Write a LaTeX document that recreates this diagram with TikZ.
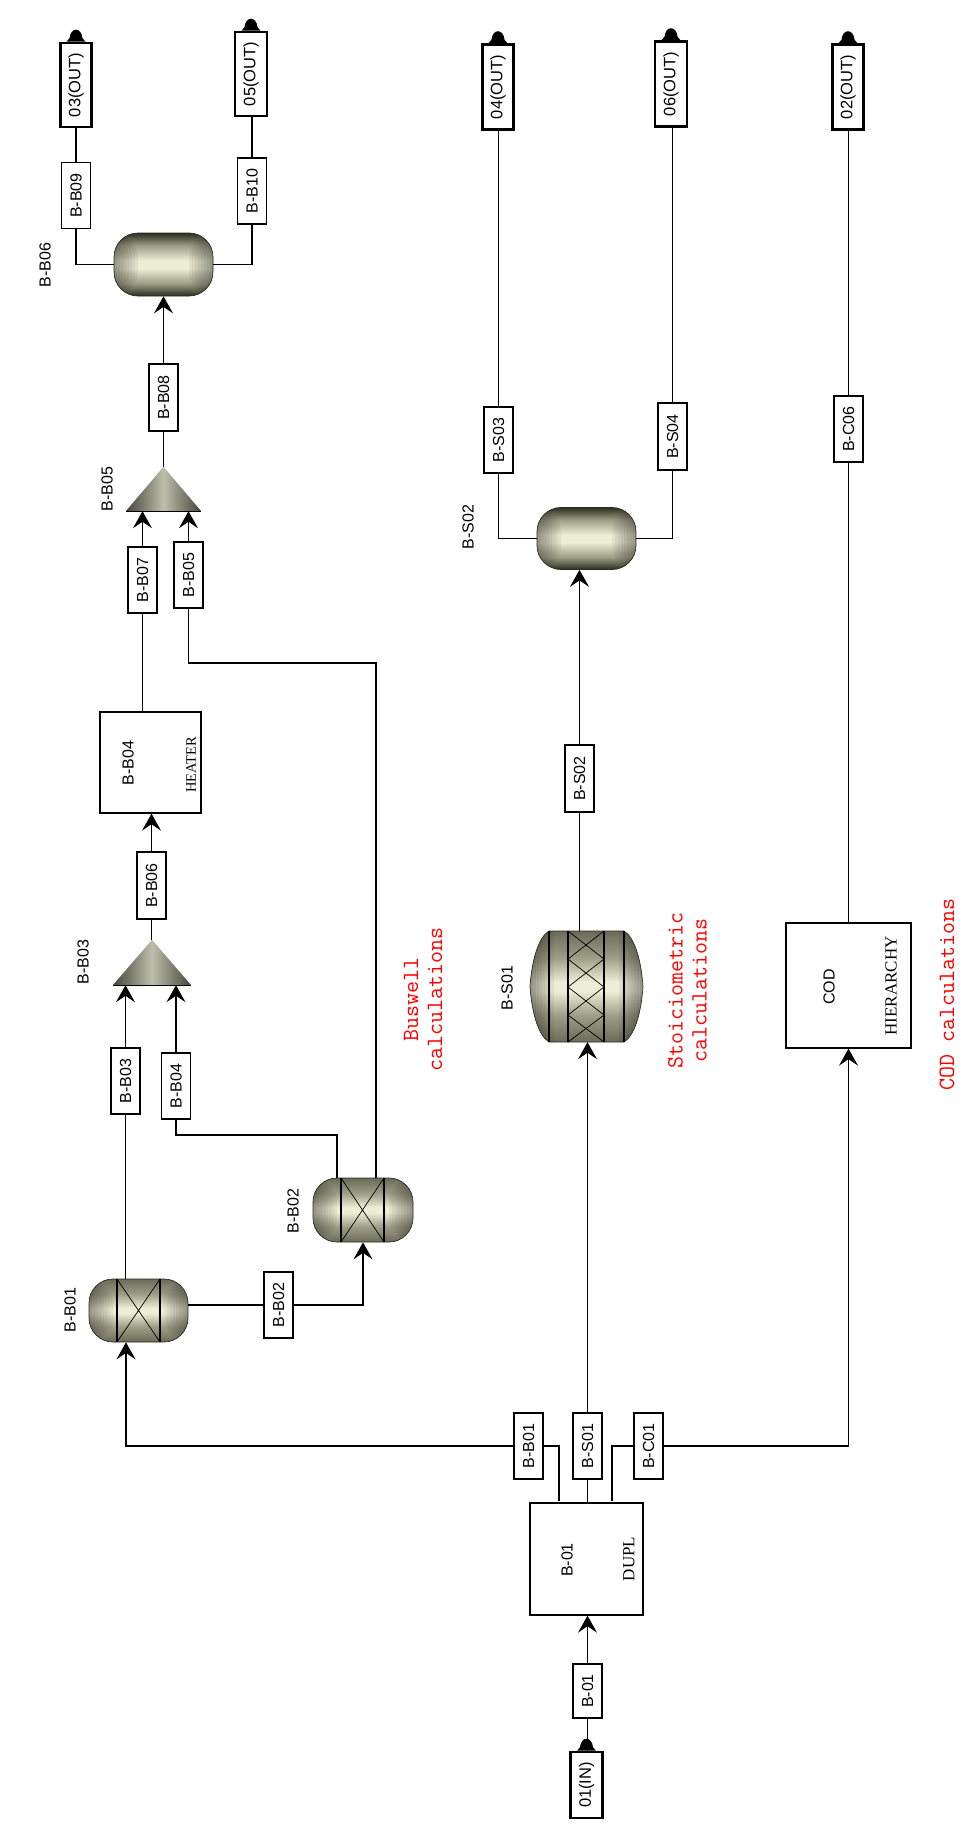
\documentclass[tikz,border=0pt]{standalone}
\usepackage{fontspec}
\usepackage{tikz}
\usetikzlibrary{arrows.meta,calc}
\newfontfamily\labelfont{Liberation Sans}
\newfontfamily\kindfont{Liberation Serif}
\definecolor{hullpale}{RGB}{238,238,214}
\definecolor{hullmid}{RGB}{158,158,134}
\definecolor{hulldark}{RGB}{44,44,32}
\definecolor{hullgrey}{RGB}{106,106,90}
\definecolor{notered}{RGB}{255,0,0}
\pgfdeclareverticalshading{drumhull}{100bp}{color(0bp)=(hulldark); color(25bp)=(hulldark); color(35bp)=(hullmid); color(47bp)=(hullpale); color(53bp)=(hullpale); color(65bp)=(hullmid); color(75bp)=(hulldark); color(100bp)=(hulldark)}
\pgfdeclareverticalshading{reactorhull}{100bp}{color(0bp)=(hullgrey); color(25bp)=(hullgrey); color(37bp)=(hullmid); color(48bp)=(hullpale); color(52bp)=(hullpale); color(63bp)=(hullmid); color(75bp)=(hullgrey); color(100bp)=(hullgrey)}
\newcommand{\rt}[1]{\rotatebox{90}{#1}}
\newcommand{\porttip}[1]{\fill[black] ($(#1.north)+(-9.5,0)$) -- ++(3,-3.5) .. controls +(0.5,-5) and +(-3.5,0) .. ++(6.5,-8.5) .. controls +(3.5,0) and +(-0.5,-5) .. ++(6.5,8.5) -- ++(3,3.5) -- cycle;}

\begin{document}
\begin{tikzpicture}[
    x=1pt,y=-1pt,
    flow/.style={line width=1.3pt},
    flowin/.style={flow,-{Stealth[length=17pt,width=19pt,inset=6.5pt]}},
    stream/.style={draw,line width=1.2pt,fill=white,inner sep=0pt,minimum width=29pt,minimum height=66pt,font=\labelfont\fontsize{16}{18}\selectfont},
    portbox/.style={draw,line width=2.6pt,fill=white,inner sep=0pt,font=\labelfont\fontsize{16.5}{18}\selectfont},
    blockbox/.style={draw,line width=1.3pt,fill=white,inner sep=0pt},
    tag/.style={rotate=90,inner sep=0pt,font=\labelfont\fontsize{16}{18}\selectfont},
    kind/.style={rotate=90,inner sep=0pt,font=\kindfont\fontsize{17}{19}\selectfont},
    note/.style={rotate=90,inner sep=0pt,align=center,text=notered,font=\ttfamily\fontsize{23.3}{24}\selectfont},
    anchorbox/.style={inner sep=0pt},
    capshade/.style={path picture={
        \foreach \w in {3,6,...,24}{
            \fill[black,fill opacity=0.05] (path picture bounding box.south west) rectangle ([xshift=\w pt]path picture bounding box.north west);
            \fill[black,fill opacity=0.05] ([xshift=-\w pt]path picture bounding box.south east) rectangle (path picture bounding box.north east);
        }}},
    drum/.style={draw=hulldark,line width=0.7pt,shade,shading=drumhull,capshade,rounded corners=24pt},
    reactor/.style={draw=hulldark,line width=0.7pt,shade,shading=reactorhull,capshade},
    mixer/.style={left color=hullgrey!65!black,right color=hullgrey!65!black,middle color=hullpale!80!black}
]
\useasboundingbox (0,0) rectangle (969,1825);

% feed and splitter
\node[portbox,minimum width=32pt,minimum height=66pt] (p01) at (586.5,1785) {\rt{01(IN)}};
\node[stream,minimum height=54pt] (s01) at (587.5,1691) {\rt{B-01}};
\node[blockbox,minimum width=113pt,minimum height=112pt] (b01) at (586.5,1559) {};
\node[tag] at (567,1560) {B-01};
\node[kind] at (629,1559) {DUPL};
\node[stream] (sB01) at (528.5,1446) {\rt{B-B01}};
\node[stream] (sS01) at (587.5,1446) {\rt{B-S01}};
\node[stream] (sC01) at (648.5,1446) {\rt{B-C01}};
\coordinate (kB01) at (559,1501);
\coordinate (kC01) at (612,1501);

% Buswell train
\node[reactor,rounded corners=24pt,minimum width=99pt,minimum height=63pt] (bB01) at (138.5,1310.5) {};
\draw[line width=1.2pt] (117,1279) -- (117,1342) (160,1279) -- (160,1342);
\draw[line width=0.7pt] (117,1279) -- (160,1342) (160,1279) -- (117,1342);
\node[tag] at (70,1310) {B-B01};
\node[stream] (sB02) at (278.5,1305) {\rt{B-B02}};
\node[reactor,rounded corners=24pt,minimum width=100pt,minimum height=64pt] (bB02) at (363,1210) {};
\draw[line width=1.2pt] (341,1178) -- (341,1242) (384,1178) -- (384,1242);
\draw[line width=0.7pt] (341,1178) -- (384,1242) (384,1178) -- (341,1242);
\node[tag] at (293,1211) {B-B02};
\node[stream] (sB03) at (125.5,1081) {\rt{B-B03}};
\node[stream] (sB04) at (176,1086) {\rt{B-B04}};
\node[anchorbox,minimum width=78pt,minimum height=45pt] (bB03) at (152,962.5) {};
\shade[mixer] (bB03.south west) -- (bB03.north) -- (bB03.south east) -- cycle;
\draw[flow] (bB03.south west) -- (bB03.south east);
\node[tag] at (83,962) {B-B03};
\node[stream,minimum height=67pt] (sB06) at (151.5,885.5) {\rt{B-B06}};
\node[blockbox,minimum width=101pt,minimum height=101pt] (bB04) at (150.5,762.5) {};
\node[tag] at (128,763) {B-B04};
\node[kind,font=\kindfont\fontsize{14.5}{16}\selectfont] at (191,765) {HEATER};
\node[stream] (sB07) at (142.5,580) {\rt{B-B07}};
\node[stream] (sB05) at (188.5,575) {\rt{B-B05}};
\coordinate (kB04) at (337,1135);
\coordinate (kB05) at (376,663);
\node[anchorbox,minimum width=75pt,minimum height=44pt] (bB05) at (163.5,489) {};
\shade[mixer] (bB05.south west) -- (bB05.north) -- (bB05.south east) -- cycle;
\draw[flow] (bB05.south west) -- (bB05.south east);
\node[tag] at (107,489) {B-B05};
\node[stream,minimum height=67pt] (sB08) at (163.5,397.5) {\rt{B-B08}};
\node[drum,minimum width=99pt,minimum height=63pt] (bB06) at (163.5,264.5) {};
\node[tag] at (45,265) {B-B06};
\node[stream] (sB09) at (76,195.5) {\rt{B-B09}};
\node[stream] (sB10) at (252,191) {\rt{B-B10}};
\node[portbox,minimum width=31pt,minimum height=84pt] (p03) at (76,85) {\rt{03(OUT)}};
\node[portbox,minimum width=32pt,minimum height=84pt] (p05) at (251,74) {\rt{05(OUT)}};

% stoichiometric train
\node[anchorbox,minimum width=113pt,minimum height=111pt] (bS01) at (586.5,986.5) {};
\path[reactor] (549,931) -- (624,931) .. controls (634,937) and (641,958) .. (643,986.5) .. controls (641,1015) and (634,1036) .. (624,1042) -- (549,1042) .. controls (539,1036) and (532,1015) .. (530,986.5) .. controls (532,958) and (539,937) .. (549,931) -- cycle;
\draw[line width=1.2pt] (549,931) -- (549,1042) (568,931) -- (568,1042) (604,931) -- (604,1042) (624,931) -- (624,1042);
\draw[line width=0.7pt] (568,931) -- (604,959) (604,931) -- (568,959) (568,959) -- (604,987) (604,959) -- (568,987) (568,987) -- (604,1015) (604,987) -- (568,1015) (568,1015) -- (604,1042) (604,1015) -- (568,1042);
\node[tag] at (507,988) {B-S01};
\node[stream,minimum height=67pt] (sS02) at (579.5,778.5) {\rt{B-S02}};
\node[drum,minimum width=99pt,minimum height=62pt] (bS02) at (586.5,538.5) {};
\node[tag] at (468,527) {B-S02};
\node[stream] (sS03) at (498.5,440) {\rt{B-S03}};
\node[stream,minimum height=67pt] (sS04) at (672.5,436.5) {\rt{B-S04}};
\node[portbox,minimum width=31pt,minimum height=85pt] (p04) at (498,87) {\rt{04(OUT)}};
\node[portbox,minimum width=32pt,minimum height=85pt] (p06) at (671,84) {\rt{06(OUT)}};

% COD train
\node[blockbox,minimum width=125pt,minimum height=125pt] (bC) at (848.5,985.5) {};
\node[tag] at (829,987) {COD};
\node[kind] at (891,986) {HIERARCHY};
\node[stream] (sC06) at (848.5,429) {\rt{B-C06}};
\node[portbox,minimum width=31pt,minimum height=85pt] (p02) at (848,87) {\rt{02(OUT)}};

% notes
\node[note] at (423,999) {Buswell\\calculations};
\node[note] at (687.5,990) {Stoiciometric\\calculations};
\node[note] at (947,994.5) {COD calculations};

% connectors
\draw[flow] (s01.south) -- (s01.south |- p01.north);
\draw[flowin] (s01.north) -- (s01.north |- b01.south);
\draw[flow] (sB01.east) -| (kB01);
\draw[flow] (sC01.west) -| (kC01);
\draw[flow] (sS01.south) -- (sS01.south |- b01.north);
\draw[flowin] (sB01.west) -| ([xshift=-12.5pt]bB01.south);
\draw[flowin] (sS01.north) -- (sS01.north |- bS01.south);
\draw[flowin] (sC01.east) -| (bC.south);
\draw[flow] (sB02.west -| bB01.east) -- (sB02.west);
\draw[flowin] (sB02.east) -| (bB02.south);
\draw[flow] (sB03.south) -- (sB03.south |- bB01.north);
\draw[flow] (sB04.south) |- (kB04) -- (kB04 |- bB02.north);
\draw[flowin] (sB03.north) -- (sB03.north |- bB03.south);
\draw[flowin] (sB04.north) -- (sB04.north |- bB03.south);
\draw[flow] (sB06.south) -- (sB06.south |- bB03.north);
\draw[flowin] (sB06.north) -- (sB06.north |- bB04.south);
\draw[flow] (sB07.south) -- (sB07.south |- bB04.north);
\draw[flow] (sB05.south) |- (kB05) -- (kB05 |- bB02.north);
\draw[flowin] (sB07.north) -- (sB07.north |- bB05.south);
\draw[flowin] (sB05.north) -- (sB05.north |- bB05.south);
\draw[flow] (sB08.south) -- (sB08.south |- bB05.north);
\draw[flowin] (sB08.north) -- (sB08.north |- bB06.south);
\draw[flow] (bB06.west) -| (sB09.south);
\draw[flow] (bB06.east) -| (sB10.south);
\draw[flow] (sB09.north) -- (sB09.north |- p03.south);
\draw[flow] (sB10.north) -- (sB10.north |- p05.south);
\draw[flow] (sS02.south) -- (sS02.south |- bS01.north);
\draw[flowin] (sS02.north) -- (sS02.north |- bS02.south);
\draw[flow] (bS02.west) -| (sS03.south);
\draw[flow] (bS02.east) -| (sS04.south);
\draw[flow] (sS03.north) -- (sS03.north |- p04.south);
\draw[flow] (sS04.north) -- (sS04.north |- p06.south);
\draw[flow] (bC.north) -- (bC.north |- sC06.south);
\draw[flow] (sC06.north) -- (sC06.north |- p02.south);

% port tips
\porttip{p01}
\porttip{p02}
\porttip{p03}
\porttip{p04}
\porttip{p05}
\porttip{p06}
\end{tikzpicture}
\end{document}
